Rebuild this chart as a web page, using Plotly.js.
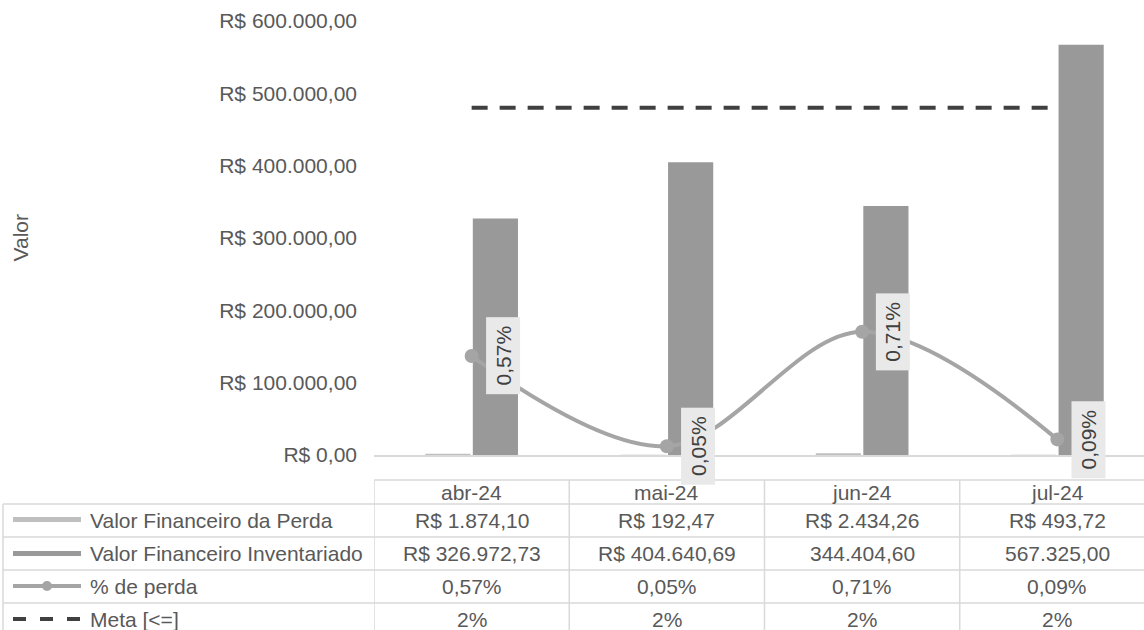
<!DOCTYPE html>
<html>
<head>
<meta charset="utf-8">
<script src="https://cdn.plot.ly/plotly-3.0.1.min.js"></script>
<style>
html,body{margin:0;padding:0;overflow:hidden;background:#fff;}
#chart{width:1160px;height:630px;}
</style>
</head>
<body>
<div id="chart"></div>
<script>
// ---- data ----
const categories = ['abr-24', 'mai-24', 'jun-24', 'jul-24'];
const seriesNames = ['Valor Financeiro da Perda', 'Valor Financeiro Inventariado', '% de perda', 'Meta [<=]'];
const lossValues = [1874.10, 192.47, 2434.26, 493.72];
const inventoryValues = [326972.73, 404640.69, 344404.60, 567325.00];
const lossPct = [0.57, 0.05, 0.71, 0.09];
const metaPct = [2, 2, 2, 2];
const lossText = ['R$ 1.874,10', 'R$ 192,47', 'R$ 2.434,26', 'R$ 493,72'];
const inventoryText = ['R$ 326.972,73', 'R$ 404.640,69', '344.404,60', '567.325,00'];
const pctText = ['0,57%', '0,05%', '0,71%', '0,09%'];
const metaText = ['2%', '2%', '2%', '2%'];
const yTickVals = [0, 100000, 200000, 300000, 400000, 500000, 600000];
const yTickText = ['R$ 0,00', 'R$ 100.000,00', 'R$ 200.000,00', 'R$ 300.000,00', 'R$ 400.000,00', 'R$ 500.000,00', 'R$ 600.000,00'];

// ---- geometry helpers (pixel -> paper) ----
const W = 1160, H = 630;
const M = {l: 374, r: 5, t: 21, b: 175};
const PW = W - M.l - M.r, PH = H - M.t - M.b;
const X = px => (px - M.l) / PW;
const Y = py => (H - M.b - py) / PH;

const FONT = 'Liberation Sans, Arial, sans-serif';
const TXT = '#595959';
const GRID = '#d9d9d9';
const C_LOSS = '#bfbfbf', C_INV = '#999999', C_PCT = '#a5a5a5', C_META = '#404040';

const traces = [
  {type: 'bar', name: seriesNames[0], x: categories, y: lossValues, marker: {color: C_LOSS}, hoverinfo: 'skip'},
  {type: 'bar', name: seriesNames[1], x: categories, y: inventoryValues, marker: {color: C_INV}, hoverinfo: 'skip'},
  {type: 'scatter', mode: 'lines+markers', name: seriesNames[2], x: categories, y: lossPct, yaxis: 'y2',
   line: {color: C_PCT, width: 4, shape: 'spline', smoothing: 1}, marker: {color: C_PCT, size: 14}, hoverinfo: 'skip'},
  {type: 'scatter', mode: 'lines', name: seriesNames[3], x: categories, y: metaPct, yaxis: 'y2',
   line: {color: C_META, width: 4, dash: '16px,12px'}, hoverinfo: 'skip'}
];

const annotations = [];
const shapes = [];

// data labels (rotated boxes)
categories.forEach((c, i) => {
  annotations.push({xref: 'x', yref: 'y2', x: c, y: lossPct[i], xshift: 31, showarrow: false,
    text: pctText[i], textangle: -90, width: 76, height: 33, borderpad: 0,
    bgcolor: '#e9e9e9', font: {family: FONT, size: 21, color: '#404040'},
    xanchor: 'center', yanchor: 'middle'});
});

// y-axis title
annotations.push({xref: 'paper', yref: 'paper', x: X(19.5), y: Y(238), showarrow: false,
  text: 'Valor', textangle: -90, font: {family: FONT, size: 21, color: TXT}, xanchor: 'center', yanchor: 'middle'});

// data table
const rowCenters = [492, 520.5, 553.5, 586.5, 619.5];
const rows = [categories, lossText, inventoryText, pctText, metaText];
rows.forEach((r, ri) => {
  r.forEach((t, ci) => {
    annotations.push({xref: 'x', yref: 'paper', x: categories[ci], y: Y(rowCenters[ri]), showarrow: false,
      text: t, font: {family: FONT, size: 21, color: TXT}, xanchor: 'center', yanchor: 'middle'});
  });
});
seriesNames.forEach((n, i) => {
  annotations.push({xref: 'paper', yref: 'paper', x: X(88), y: Y(rowCenters[i + 1]), showarrow: false,
    text: n.replace('<', '&lt;'), font: {family: FONT, size: 21, color: TXT}, xanchor: 'left', yanchor: 'middle'});
});

// table grid lines
const L = {color: GRID, width: 1.5};
shapes.push({type: 'line', xref: 'paper', yref: 'paper', x0: X(374), x1: X(1170), y0: Y(480), y1: Y(480), line: L});
[504, 537, 570, 603].forEach(py => {
  shapes.push({type: 'line', xref: 'paper', yref: 'paper', x0: X(3), x1: X(1170), y0: Y(py), y1: Y(py), line: L});
});
[-0.5, 0.5, 1.5, 2.5].forEach(xv => {
  shapes.push({type: 'line', xref: 'x', yref: 'paper', x0: xv, x1: xv, y0: Y(480), y1: Y(640), line: L});
});
shapes.push({type: 'line', xref: 'paper', yref: 'paper', x0: X(3), x1: X(3), y0: Y(504), y1: Y(640), line: L});

// legend keys inside table
shapes.push({type: 'rect', xref: 'paper', yref: 'paper', x0: X(13), x1: X(81), y0: Y(517), y1: Y(522), fillcolor: C_LOSS, line: {width: 0}});
shapes.push({type: 'rect', xref: 'paper', yref: 'paper', x0: X(13), x1: X(81), y0: Y(551), y1: Y(556), fillcolor: C_INV, line: {width: 0}});
shapes.push({type: 'line', xref: 'paper', yref: 'paper', x0: X(13), x1: X(81), y0: Y(586), y1: Y(586), line: {color: C_PCT, width: 4}});
shapes.push({type: 'circle', xref: 'paper', yref: 'paper', x0: X(42), x1: X(52), y0: Y(581), y1: Y(591), fillcolor: C_PCT, line: {width: 0}});
shapes.push({type: 'line', xref: 'paper', yref: 'paper', x0: X(13), x1: X(81), y0: Y(619), y1: Y(619), line: {color: C_META, width: 4, dash: '13px,14px'}});

const layout = {
  width: W, height: H,
  margin: M,
  paper_bgcolor: '#ffffff', plot_bgcolor: '#ffffff',
  showlegend: false,
  barmode: 'group', bargap: 0.513, bargroupgap: 0.05,
  font: {family: FONT, size: 21, color: TXT},
  xaxis: {type: 'category', range: [-0.5, 3.5], showticklabels: false, ticks: '', showgrid: false,
    showline: true, linecolor: GRID, linewidth: 1.5, zeroline: false, fixedrange: true},
  yaxis: {range: [0, 600000], tickmode: 'array', tickvals: yTickVals, ticktext: yTickText,
    showgrid: false, showline: false, zeroline: false, ticks: '', ticklabelstandoff: 16,
    tickfont: {family: FONT, size: 21, color: TXT}, fixedrange: true},
  yaxis2: {overlaying: 'y', side: 'right', range: [0, 2.5], visible: false, showgrid: false, zeroline: false},
  annotations: annotations,
  shapes: shapes
};

Plotly.newPlot('chart', traces, layout, {staticPlot: true, displayModeBar: false});
</script>
</body>
</html>
